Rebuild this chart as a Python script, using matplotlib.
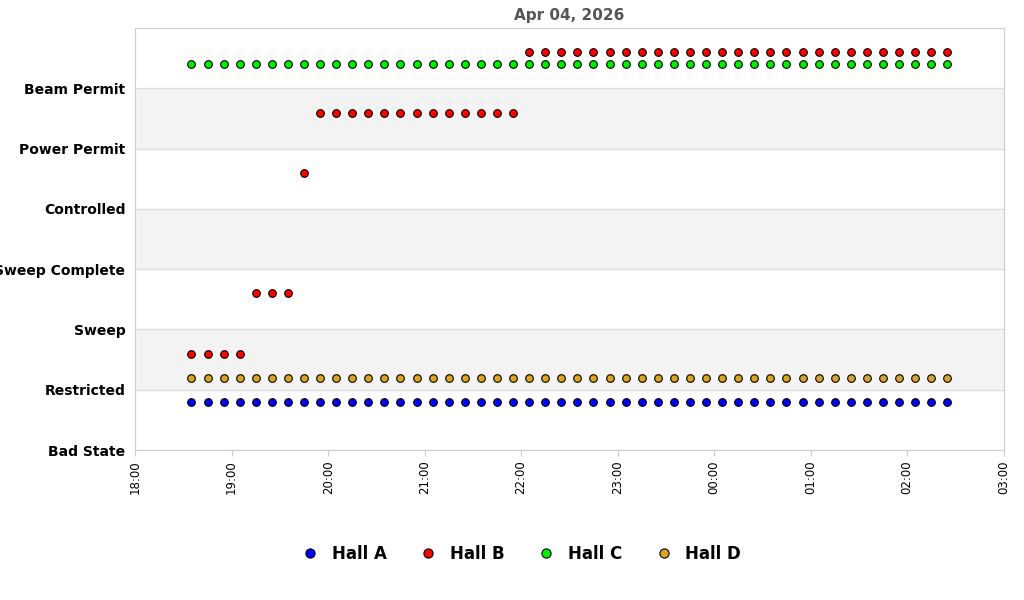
import numpy as np
import pandas as pd
import matplotlib.pyplot as plt
import matplotlib.dates as mdates

states = ["Bad State", "Restricted", "Sweep", "Sweep Complete",
          "Controlled", "Power Permit", "Beam Permit"]

times = pd.date_range("2026-04-04 18:35", "2026-04-05 02:25", freq="10min")

hall_a = ["Restricted"] * 48
hall_b = (["Restricted"] * 4 + ["Sweep"] * 3 + ["Controlled"] * 1
          + ["Power Permit"] * 13 + ["Beam Permit"] * 27)
hall_c = ["Beam Permit"] * 48
hall_d = ["Restricted"] * 48

halls = [("Hall A", hall_a, "#0000ff", -0.2),
         ("Hall B", hall_b, "#ff0000", 0.6),
         ("Hall C", hall_c, "#00ee00", 0.4),
         ("Hall D", hall_d, "#daa520", 0.2)]

fig = plt.figure(figsize=(10.24, 6), dpi=100)
ax = fig.add_axes([0.132, 0.25, 0.848, 0.703])

for i in range(len(states)):
    if i % 2 == 1:
        ax.axhspan(i, i + 1, color="#f3f3f3", zorder=0)
    ax.axhline(i, color="#dddddd", lw=0.8, zorder=0)

for name, vals, col, off in halls:
    y = np.array([states.index(v) for v in vals]) + off
    ax.plot(times, y, "o", color=col, mec="black", mew=0.8, ms=5.5,
            label=name, zorder=3)

ax.set_ylim(0, 7)
ax.set_yticks(range(7))
ax.set_yticklabels(states, fontweight="bold", fontsize=10)
ax.set_xlim(pd.Timestamp("2026-04-04 18:00"), pd.Timestamp("2026-04-05 03:00"))
ax.xaxis.set_major_locator(mdates.HourLocator())
ax.xaxis.set_major_formatter(mdates.DateFormatter("%H:%M"))
plt.setp(ax.get_xticklabels(), rotation=90, fontsize=8.5)
ax.tick_params(axis="y", length=0, pad=7)
ax.tick_params(axis="x", length=4, color="#cccccc")
for s in ax.spines.values():
    s.set_color("#cccccc")
ax.set_title("Apr 04, 2026", fontweight="bold", fontsize=11, color="#555555", pad=6)

fig.legend(loc="center", ncol=4, frameon=False, bbox_to_anchor=(0.505, 0.077),
           prop={"weight": "bold", "size": 12}, handletextpad=0.3, columnspacing=1.5,
           markerscale=1.2)

fig.savefig("out.png", dpi=100)
